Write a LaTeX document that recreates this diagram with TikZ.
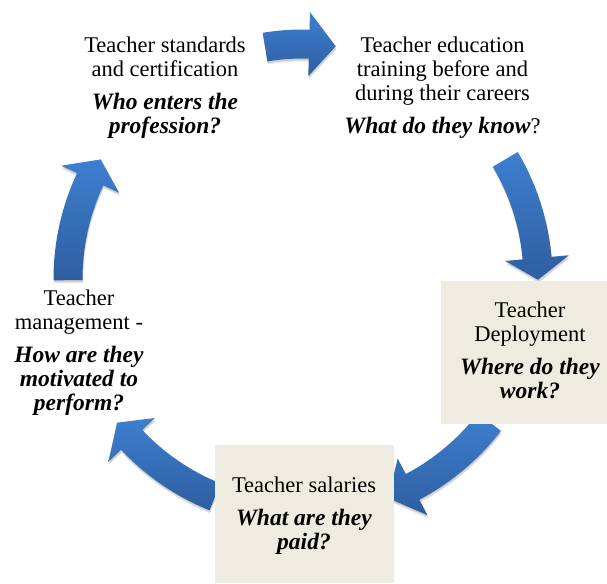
\documentclass[tikz,border=0pt]{standalone}
\usepackage{fontspec}
\setmainfont{Liberation Serif}
\definecolor{arrowtop}{RGB}{62,127,208}
\definecolor{arrowbot}{RGB}{46,94,160}
\definecolor{boxfill}{HTML}{EEECE1}
\tikzset{
  x=1pt, y=1pt,
  arrowshade/.style={top color=arrowtop, bottom color=arrowbot, draw=none},
  shadowfill/.style={fill=black, opacity=0.10},
  tanbox/.style={fill=boxfill, draw=none, inner sep=0pt, anchor=south west},
  lbl/.style={anchor=base, inner sep=0pt, font=\fontsize{22.5}{24}\selectfont},
}
\newcommand{\cyclearrowpath}[3]{%
  ([shift={(C)}]#1:249.5pt) arc[start angle=#1, end angle=#2, radius=249.5pt]
  -- ([shift={(C)}]#2:267pt) -- ([shift={(C)}]#3:235pt) -- ([shift={(C)}]#2:203pt)
  -- ([shift={(C)}]#2:220.5pt) arc[start angle=#2, end angle=#1, radius=220.5pt] -- cycle}
\newcommand{\cyclearrow}[3]{%
  \begin{scope}[shift={(0.5pt,-3pt)}]\fill[shadowfill] \cyclearrowpath{#1}{#2}{#3};\end{scope}
  \begin{scope}[shift={(0.5pt,-1.8pt)}]\fill[shadowfill] \cyclearrowpath{#1}{#2}{#3};\end{scope}
  \path[arrowshade] \cyclearrowpath{#1}{#2}{#3};}
\newcommand{\qi}[1]{{\fontsize{23.5}{24}\selectfont\textbf{\textit{#1}}}}
\begin{document}
\begin{tikzpicture}
\useasboundingbox (0,0) rectangle (607,583);
\coordinate (C) at (303,304);
% arrows (clockwise)
\cyclearrow{99.3}{88.5}{82}
\cyclearrow{30.6}{5.1}{-0.2}
\cyclearrow{-37.5}{-62.2}{-68.8}
\cyclearrow{-112}{-136.8}{-142.3}
\cyclearrow{180.3}{154.9}{149.4}
% boxes
\node[tanbox, minimum width=166pt, minimum height=143pt] (depbox) at (441,159) {};
\node[tanbox, minimum width=179pt, minimum height=138pt] (salbox) at (215,0) {};
% texts
\node[lbl] (std) at (165,530) {\begin{tabular}[t]{@{}c@{}}Teacher standards\\ and certification\\[9pt] \qi{Who enters the}\\ \qi{profession?}\end{tabular}};
\node[lbl] (edu) at (442.5,530) {\begin{tabular}[t]{@{}c@{}}Teacher education\\ training before and\\ during their careers\\[9pt] \qi{What do they know}?\end{tabular}};
\node[lbl] (dep) at (530,265) {\begin{tabular}[t]{@{}c@{}}Teacher\\ Deployment\\[9pt] \qi{Where do they}\\ \qi{work?}\end{tabular}};
\node[lbl] (sal) at (304,90) {\begin{tabular}[t]{@{}c@{}}Teacher salaries\\[9pt] \qi{What are they}\\ \qi{paid?}\end{tabular}};
\node[lbl] (mgt) at (79,277) {\begin{tabular}[t]{@{}c@{}}Teacher\\ management -\\[9pt] \qi{How are they}\\ \qi{motivated to}\\ \qi{perform?}\end{tabular}};
\end{tikzpicture}
\end{document}
